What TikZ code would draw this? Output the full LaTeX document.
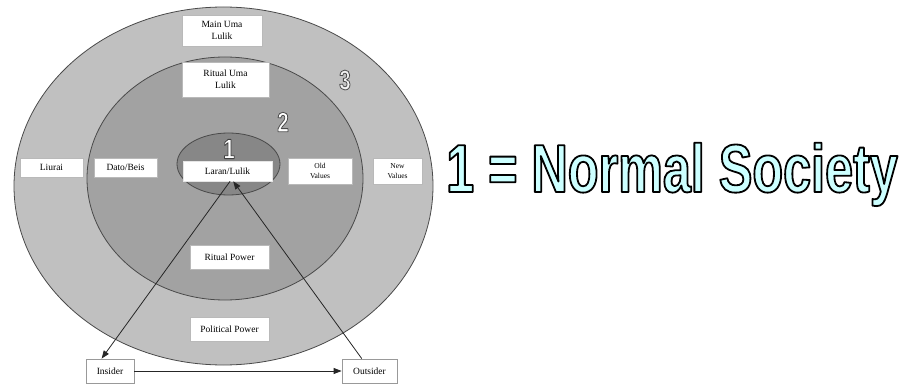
\documentclass[tikz,border=0pt]{standalone}
\usepackage{fontspec}
\setmainfont{Liberation Serif}
\newfontfamily\headfont{Liberation Sans}[FakeStretch=0.74]
\usetikzlibrary{arrows.meta}
\definecolor{ringouter}{HTML}{C0C0C0}
\definecolor{ringmid}{HTML}{A2A2A2}
\definecolor{ringinner}{HTML}{878787}
\definecolor{ringline}{HTML}{4A4A4A}
\definecolor{headfill}{HTML}{CCFFFF}
% outlined text: fill in the current colour, stroke with the given grey level
% \outlined{stroke gray}{line width in bp}{text}
\newcommand\outlined[3]{%
  \special{pdf:code q #1 G 2 Tr #2 w 1 j}#3\special{pdf:code Q}}
\begin{document}
\begin{tikzpicture}[x=1pt,y=-1pt,
  ring/.style={draw=ringline,line width=0.8pt},
  box/.style={draw=gray!55,fill=white,line width=0.6pt,inner sep=1pt,
    align=center,font=\fontsize{9.5}{12.5}\selectfont},
  smallbox/.style={box,font=\fontsize{7.5}{10}\selectfont},
  endbox/.style={box,draw=gray!80,line width=0.8pt},
  link/.style={draw=black!85,line width=0.8pt,-{Triangle[length=8pt,width=6pt]}},
  numlabel/.style={font=\headfont\bfseries\fontsize{28}{28}\selectfont,inner sep=0pt}
]
\useasboundingbox (0,0) rectangle (908,385);

% concentric rings
\fill[ringouter] (223.5,186) ellipse [x radius=209.5pt, y radius=179pt];
\draw[ring] (223.5,186) ellipse [x radius=209.5pt, y radius=179pt];
\fill[ringmid] (225,178.5) ellipse [x radius=138pt, y radius=121.5pt];
\draw[ring] (225,178.5) ellipse [x radius=138pt, y radius=121.5pt];
\fill[ringinner] (228.5,164) ellipse [x radius=51.5pt, y radius=31pt];
\draw[ring] (228.5,164) ellipse [x radius=51.5pt, y radius=31pt];

% ring numbers
\node[numlabel,text=white] (n1) at (229,149) {\outlined{0.25}{0.8}{1}};
\node[numlabel,text=white] (n2) at (283,122) {\outlined{0.3}{0.8}{2}};
\node[numlabel,text=white!90!gray] (n3) at (345,80) {\outlined{0.3}{0.8}{3}};

% labels
\node[box,minimum width=80pt,minimum height=31pt] (main) at (222,30.5) {Main Uma\\Lulik};
\node[box,minimum width=87pt,minimum height=35pt] (ritualuma) at (225.5,79.5) {Ritual Uma\\Lulik};
\node[box,minimum width=89pt,minimum height=20pt,draw=white!90!black] (laran) at (227.5,171) {Laran/Lulik};
\node[smallbox,minimum width=64pt,minimum height=26pt] (old) at (320,171) {Old\\Values};
\node[smallbox,minimum width=49pt,minimum height=26pt] (new) at (397.5,171) {New\\Values};
\node[box,minimum width=63pt,minimum height=19pt] (liurai) at (51.5,167.5) {Liurai};
\node[box,minimum width=63pt,minimum height=19pt] (dato) at (125.5,167.5) {Dato/Beis};
\node[box,minimum width=79pt,minimum height=24pt] (ritualpower) at (229.5,257) {Ritual Power};
\node[box,minimum width=79pt,minimum height=24pt] (political) at (229.5,329) {Political Power};
\node[endbox,minimum width=48pt,minimum height=24pt] (insider) at (110,371) {Insider};
\node[endbox,minimum width=55pt,minimum height=24pt] (outsider) at (369.5,371) {Outsider};

% connectors
\draw[link] (laran.-76) -- (insider.124);
\draw[link] (outsider.122) -- (laran.-61);
\draw[link] (insider.east) -- (outsider.west);

% heading
\node[anchor=base west,inner sep=0pt,text=headfill,
  font=\headfont\bfseries\fontsize{68}{68}\selectfont] (title) at (446,192)
  {\outlined{0}{1.8}{1 = Normal Society}};
\end{tikzpicture}
\end{document}
